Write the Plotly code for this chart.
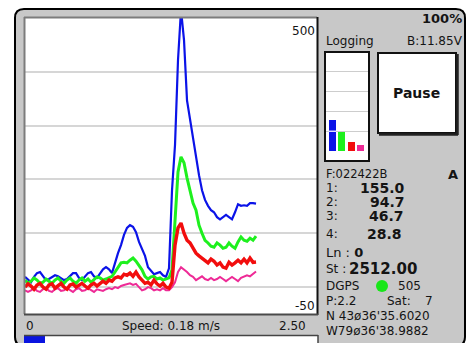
import plotly.graph_objects as go

W, H = 470, 343

# ---------------- data ----------------
sample_index = list(range(78))
ch1_blue = [19, 13, 9, 19, 26, 28, 20, 13, 15, 19,
            22, 20, 17, 13, 15, 20, 26, 26, 17, 13,
            19, 26, 28, 20, 17, 26, 33, 37, 33, 26,
            46, 63, 78, 97, 110, 115, 112, 102, 84, 72,
            58, 37, 30, 24, 26, 28, 22, 19, 35, 180,
            264, 422, 515, 459, 347, 310, 273, 242, 208, 180,
            162, 151, 143, 139, 130, 126, 130, 134, 130, 126,
            139, 154, 151, 152, 151, 156, 156, 155.0]
ch2_green = [13, 7, 11, 17, 13, 7, 9, 15, 11, 7,
             13, 17, 11, 7, 13, 17, 11, 7, 13, 17,
             11, 15, 9, 15, 19, 17, 13, 15, 17, 20,
             28, 37, 45, 46, 45, 50, 54, 48, 39, 32,
             20, 15, 19, 20, 15, 17, 13, 15, 17, 32,
             134, 214, 242, 231, 203, 180, 156, 143, 115, 100,
             87, 82, 76, 74, 82, 78, 72, 74, 82, 76,
             72, 84, 93, 87, 85, 91, 87, 94.7]
ch3_red = [0, 6, 2, -4, 4, 7, 0, -4, 4, 6,
           -2, 2, 7, 0, -4, 4, 6, 0, 4, 7,
           2, -2, 4, 7, 2, 6, 11, 7, 13, 11,
           17, 19, 17, 24, 22, 26, 20, 28, 19, 13,
           7, 9, 4, 13, 6, 2, 7, 0, -2, 9,
           78, 110, 119, 100, 87, 82, 71, 63, 58, 54,
           50, 45, 52, 48, 41, 45, 37, 35, 46, 41,
           45, 50, 45, 52, 45, 54, 46, 46.7]
ch4_pink = [-6, -9, -6, -2, -7, -9, -4, -2, -7, -9,
            -4, -2, -7, -6, -2, -6, -9, -4, -2, -7,
            -6, -2, -6, -9, -4, -6, -7, -4, -2, -4,
            0, -2, 2, 4, 6, 7, 4, 6, 0, -6,
            -4, 0, -2, -6, -4, -6, -2, -6, -6, 0,
            9, 28, 37, 33, 28, 22, 19, 13, 17, 20,
            15, 13, 17, 13, 15, 19, 15, 11, 15, 19,
            15, 11, 17, 20, 22, 20, 24, 28.8]

bar_channels = [0, 1, 2, 3]
bar_values = [155.0, 94.7, 46.7, 28.8]
grid_values = [0, 100, 200, 300, 400]
y_range = [-50, 500]
speed = 0.18
speed_max = 2.50

BLUE, GREEN, RED, PINK = "#0b13e8", "#1ef01e", "#f20d0d", "#ee2a96"
GRAY = "#c8c8c8"
FONT = "DejaVu Sans"
TXT = "#141414"


def X(px):
    return px / W


def Y(py):
    return 1 - py / H


fig = go.Figure()

for vals, col, w in [(ch4_pink, PINK, 2), (ch1_blue, BLUE, 2.2), (ch2_green, GREEN, 3), (ch3_red, RED, 3.4)]:
    fig.add_trace(go.Scatter(x=sample_index, y=vals, mode="lines",
                             line=dict(color=col, width=w), xaxis="x", yaxis="y",
                             hoverinfo="skip", showlegend=False))

fig.add_trace(go.Bar(x=bar_channels, y=bar_values, width=0.72,
                     marker=dict(color=[BLUE, GREEN, RED, PINK], line=dict(width=0)),
                     xaxis="x2", yaxis="y2", hoverinfo="skip", showlegend=False))

fig.add_trace(go.Bar(x=[speed], y=[0], orientation="h", width=1,
                     marker=dict(color="#0a14e0", line=dict(width=0)),
                     xaxis="x3", yaxis="y3", hoverinfo="skip", showlegend=False))

hidden = dict(showticklabels=False, ticks="", zeroline=False, showline=False, fixedrange=True)

fig.update_layout(
    width=W, height=H, margin=dict(l=0, r=0, t=0, b=0),
    paper_bgcolor="white", plot_bgcolor="rgba(0,0,0,0)", showlegend=False,
    bargap=0,
    xaxis=dict(domain=[X(24), X(317)], range=[-1 / 3, 97.33], showgrid=False, **hidden),
    yaxis=dict(domain=[Y(314), Y(18)], range=y_range, tickvals=grid_values,
               showgrid=True, gridcolor="#d6d6d6", gridwidth=2, **hidden),
    xaxis2=dict(domain=[X(325), X(369)], range=[-0.75, 3.85], anchor="y2", showgrid=False, **hidden),
    yaxis2=dict(domain=[Y(161), Y(52)], range=y_range, anchor="x2", tickvals=grid_values[1:],
                showgrid=True, gridcolor="#cdcdcd", gridwidth=1, **hidden),
    xaxis3=dict(domain=[X(24), X(318)], range=[0, speed_max], anchor="y3", showgrid=False, **hidden),
    yaxis3=dict(domain=[Y(343), Y(336)], range=[-0.5, 0.5], anchor="x3", showgrid=False, **hidden),
)


def rect(x0, y0, x1, y1, fill=None, lc=None, lw=0, layer="below"):
    d = dict(type="rect", xref="paper", yref="paper", x0=X(x0), x1=X(x1), y0=Y(y1), y1=Y(y0),
             layer=layer, line=dict(width=lw, color=lc or "rgba(0,0,0,0)"))
    d["fillcolor"] = fill if fill else "rgba(0,0,0,0)"
    return d


def seg(x0, y0, x1, y1, color, width):
    return dict(type="line", xref="paper", yref="paper", x0=X(x0), x1=X(x1), y0=Y(y0), y1=Y(y1),
                layer="above", line=dict(color=color, width=width))


def rounded(x0, y0, x1, y1, r):
    p = [("M", x0 + r, y0), ("L", x1 - r, y0), ("Q", x1, y0, x1, y0 + r), ("L", x1, y1 - r),
         ("Q", x1, y1, x1 - r, y1), ("L", x0 + r, y1), ("Q", x0, y1, x0, y1 - r), ("L", x0, y0 + r),
         ("Q", x0, y0, x0 + r, y0)]
    s = ""
    for cmd in p:
        c = cmd[0]
        nums = cmd[1:]
        pts = []
        for i in range(0, len(nums), 2):
            pts.append(f"{X(nums[i]):.5f},{Y(nums[i + 1]):.5f}")
        s += c + " " + " ".join(pts) + " "
    return s + "Z"


shapes = [
    dict(type="path", xref="paper", yref="paper", path=rounded(15, 9, 465, 346, 9),
         fillcolor=GRAY, line=dict(color="#000000", width=2), layer="below"),
    rect(24, 17, 317, 314, fill="white"),
    rect(325, 52, 369, 161, fill="white"),
    rect(378, 53, 456, 133, fill="white"),
    rect(24, 335, 318, 345, fill="white"),
    # plot frame
    seg(24, 17.5, 317, 17.5, "#7c7c7c", 2),
    seg(24.5, 17, 24.5, 314, "#7c7c7c", 2),
    seg(317.5, 17, 317.5, 315, "#111111", 2),
    seg(24, 314.5, 318, 314.5, "#4a4a4a", 2),
    # bar box
    rect(325, 52, 369, 161, lc="#111111", lw=2, layer="above"),
    # pause button
    rect(378, 53, 456, 133, lc="#111111", lw=2, layer="above"),
    seg(457.5, 54, 457.5, 135, "#222222", 2.5),
    seg(379, 134.5, 458, 134.5, "#222222", 2.5),
    # speed bar frame
    seg(24, 335.5, 318, 335.5, "#444444", 1.5),
    seg(318, 335, 318, 344, "#444444", 1.5),
    # DGPS indicator
    dict(type="circle", xref="paper", yref="paper", x0=X(376), x1=X(388), y0=Y(292), y1=Y(280),
         fillcolor="#19e619", line=dict(width=0), layer="above"),
    # light gridline crossing the blue bar
    dict(type="line", xref="x2", yref="y2", x0=-0.4, x1=0.4, y0=100, y1=100,
         line=dict(color="#dcdcff", width=1.5), layer="above"),
]


def txt(s, x, y, anchor="left", size=12, color=TXT):
    return dict(text=s, x=X(x), y=Y(y), xref="paper", yref="paper", xanchor=anchor,
                yanchor="middle", showarrow=False, borderpad=0,
                font=dict(family=FONT, size=size, color=color))


ann = [
    txt("500", 316, 31, "right", 12),
    txt("-50", 316, 306, "right", 12),
    txt("0", 25, 326, "left", 12),
    txt("Speed: 0.18 m/s", 171, 326, "center", 12),
    txt("2.50", 307, 326, "right", 12),
    txt("<b>100%</b>", 463, 18, "right", 13),
    txt("Logging", 325, 41, "left", 12),
    txt("B:11.85V", 464, 41, "right", 12),
    txt("<b>Pause</b>", 416, 93, "center", 14),
    txt("F:022422B", 325, 174, "left", 11.5),
    txt("<b>A</b>", 447, 174, "left", 13),
    txt("1:", 325, 188, "left", 12), txt("<b>155.0</b>", 406, 188, "right", 14),
    txt("2:", 325, 202, "left", 12), txt("<b>94.7</b>", 406, 202, "right", 14),
    txt("3:", 325, 216, "left", 12), txt("<b>46.7</b>", 405, 216, "right", 14),
    txt("4:", 325, 234, "left", 12), txt("<b>28.8</b>", 403, 234, "right", 14),
    txt("Ln : <b>0</b>", 325, 252, "left", 13),
    txt("St :", 325, 269, "left", 12), txt("<b>2512.00</b>", 348, 269, "left", 15),
    txt("DGPS", 325, 286, "left", 12), txt("505", 397, 286, "left", 12),
    txt("P:2.2", 325, 301, "left", 12), txt("Sat:", 386, 301, "left", 12), txt("7", 424, 301, "left", 12),
    txt("N 43ø36'35.6020", 325, 316, "left", 12),
    txt("W79ø36'38.9882", 325, 331, "left", 12),
]

fig.update_layout(shapes=shapes, annotations=ann)
fig.write_html("out.html", config={"displayModeBar": False, "staticPlot": True},
               post_script="document.body.style.margin='0px';document.body.style.overflow='hidden';")
